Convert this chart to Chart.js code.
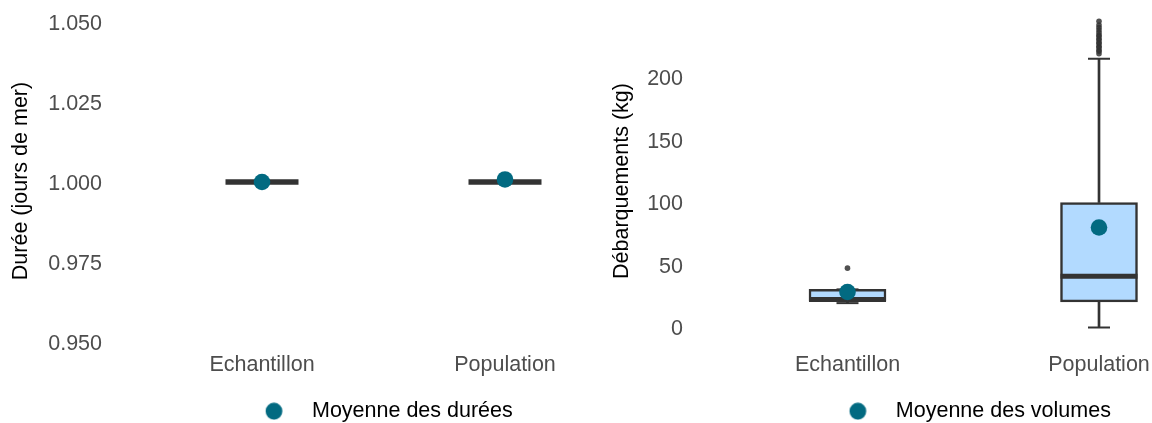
<!DOCTYPE html>
<html>
<head>
<meta charset="utf-8">
<script src="https://cdn.jsdelivr.net/npm/chart.js@4.4.1/dist/chart.umd.min.js"></script>
<style>
  html, body { margin: 0; padding: 0; background: #ffffff; width: 1152px; height: 423px; overflow: hidden; position: relative; }
  canvas { position: absolute; top: 0; }
  #duree { left: 0; }
  #volume { left: 590px; }
</style>
</head>
<body>
<canvas id="duree" width="793" height="432"></canvas>
<canvas id="volume" width="785" height="432"></canvas>
<script>
const categories = ['Echantillon', 'Population'];

// Durée des marées (jours de mer) : boîtes à moustaches + moyennes
const dureeMin = [1, 1];
const dureeQ1 = [1, 1];
const dureeMedian = [1, 1];
const dureeQ3 = [1, 1];
const dureeMax = [1, 1];
const dureeMean = [1, 1.0008];
const dureeOutliers = [[], []];
const dureeTicks = [0.95, 0.975, 1, 1.025, 1.05];
const dureeTickLabels = ['0.950', '0.975', '1.000', '1.025', '1.050'];

// Débarquements (kg)
const volMin = [19.5, 0];
const volQ1 = [21, 20.5];
const volMedian = [22.5, 41];
const volQ3 = [30.5, 100];
const volMax = [30.5, 215];
const volMean = [28.4, 80];
const volOutliers = [
  [47.5],
  [219, 221, 222, 224, 225, 227, 228, 230, 231, 233, 234, 236, 238, 240, 242, 245]
];
const volTicks = [0, 50, 100, 150, 200];
const volTickLabels = ['0', '50', '100', '150', '200'];

const TEAL = '#026a81';
const DARK = '#333333';
const FILL = '#b2daff';
const FONT_SIZE = 21.5;

Chart.defaults.font.family = "'Liberation Sans', Arial, Helvetica, sans-serif";
Chart.defaults.font.size = FONT_SIZE;

// Legend marker: a dot set further left of its label than the default layout
function legendDot(color, offset) {
  const c = document.createElement('canvas');
  const r = 8.4;
  const half = Math.ceil(Math.abs(offset) + r + 1);
  c.width = half * 2;
  c.height = 18;
  const g = c.getContext('2d');
  g.fillStyle = color;
  g.beginPath();
  g.arc(half + offset, c.height / 2, r, 0, Math.PI * 2);
  g.fill();
  return c;
}

// Keep the plot area where the layout padding puts it
function noAutoMargins(sc) {
  sc.paddingLeft = 0;
  sc.paddingRight = 0;
  sc.paddingTop = 0;
  sc.paddingBottom = 0;
}

const pts = (arr) => arr.map((v, i) => ({ x: i + 1, y: v }));

function boxChart(id, s) {
  return new Chart(document.getElementById(id), {
    type: 'bar',
    data: {
      datasets: [
        {
          type: 'scatter', label: s.meanLabel, data: pts(s.mean),
          pointStyle: 'circle', pointRadius: 8.3, pointHoverRadius: 8.3,
          backgroundColor: TEAL, borderColor: TEAL, borderWidth: 0, order: 0, clip: false
        },
        {
          type: 'scatter', label: 'outliers',
          data: s.outliers.flatMap((arr, i) => arr.map(v => ({ x: i + 1, y: v }))),
          pointRadius: 2.8, pointHoverRadius: 2.8,
          backgroundColor: 'rgba(51,51,51,0.85)', borderWidth: 0, order: 1, clip: false
        },
        {
          type: 'scatter', label: 'median', data: pts(s.median),
          pointStyle: 'line', pointRadius: s.boxPx / 2, pointHoverRadius: s.boxPx / 2,
          borderColor: DARK, borderWidth: s.medianWidth, order: 2, clip: false
        },
        {
          type: 'scatter', label: 'caps', data: [...pts(s.min), ...pts(s.max)],
          pointStyle: 'line', pointRadius: 11, pointHoverRadius: 11,
          borderColor: DARK, borderWidth: 2, order: 3, clip: false
        },
        {
          type: 'bar', label: 'box',
          data: s.q1.map((v, i) => ({ x: i + 1, y: [v, s.q3[i]] })),
          backgroundColor: FILL, borderColor: DARK, borderWidth: 2.5, borderSkipped: false,
          barThickness: s.boxPx, grouped: false, order: 4
        },
        {
          type: 'bar', label: 'whiskers',
          data: [
            ...s.q3.map((v, i) => ({ x: i + 1, y: [v, s.max[i]] })),
            ...s.min.map((v, i) => ({ x: i + 1, y: [v, s.q1[i]] }))
          ],
          backgroundColor: DARK, borderWidth: 0, barThickness: 2, grouped: false, order: 5
        }
      ]
    },
    options: {
      responsive: false,
      animation: false,
      devicePixelRatio: 1,
      events: [],
      layout: { autoPadding: false, padding: { left: s.padLeft, top: 19, right: 0, bottom: 0 } },
      plugins: {
        tooltip: { enabled: false },
        legend: {
          position: 'bottom',
          labels: {
            filter: (item) => item.datasetIndex === 0,
            usePointStyle: true,
            pointStyle: legendDot(TEAL, -18.75),
            boxWidth: 17,
            boxHeight: 12,
            padding: 0,
            color: '#000000',
            font: { size: FONT_SIZE }
          }
        }
      },
      scales: {
        x: {
          type: 'linear', min: s.xMin, max: s.xMax, offset: false,
          grid: { display: false, drawTicks: false },
          border: { display: false },
          afterBuildTicks: (sc) => { sc.ticks = categories.map((c, i) => ({ value: i + 1 })); },
          afterFit: (sc) => { sc.height = 57.5; noAutoMargins(sc); },
          ticks: {
            autoSkip: false, maxRotation: 0, padding: 9,
            color: '#4d4d4d', font: { size: FONT_SIZE },
            callback: (v) => categories[v - 1] ?? ''
          }
        },
        y: {
          type: 'linear', min: s.yMin, max: s.yMax,
          grid: { display: false, drawTicks: false },
          border: { display: false },
          afterBuildTicks: (sc) => { sc.ticks = s.ticks.map(v => ({ value: v })); },
          afterFit: (sc) => { sc.width = s.yAxisWidth; noAutoMargins(sc); },
          ticks: {
            padding: 6, labelOffset: 2, color: '#4d4d4d', font: { size: FONT_SIZE },
            callback: (v, i) => s.tickLabels[i]
          },
          title: {
            display: true, text: s.yTitle, color: '#000000',
            font: { size: FONT_SIZE }, padding: { top: s.titlePad, bottom: 0 }
          }
        }
      }
    }
  });
}

boxChart('duree', {
  min: dureeMin, q1: dureeQ1, median: dureeMedian, q3: dureeQ3, max: dureeMax,
  mean: dureeMean, outliers: dureeOutliers,
  ticks: dureeTicks, tickLabels: dureeTickLabels,
  meanLabel: 'Moyenne des durées', yTitle: 'Durée (jours de mer)',
  yMin: 0.9496875, yMax: 1.0509375,
  xMin: 0.36626, xMax: 3.18519,
  padLeft: 4, titlePad: 4, yAxisWidth: 104,
  boxPx: 73, medianWidth: 5.5
});

boxChart('volume', {
  min: volMin, q1: volQ1, median: volMedian, q3: volQ3, max: volMax,
  mean: volMean, outliers: volOutliers,
  ticks: volTicks, tickLabels: volTickLabels,
  meanLabel: 'Moyenne des volumes', yTitle: 'Débarquements (kg)',
  yMin: -12.4, yMax: 246.8,
  xMin: 0.36978, xMax: 3.09741,
  padLeft: 14, titlePad: 5, yAxisWidth: 85,
  boxPx: 77, medianWidth: 5
});
</script>
</body>
</html>
